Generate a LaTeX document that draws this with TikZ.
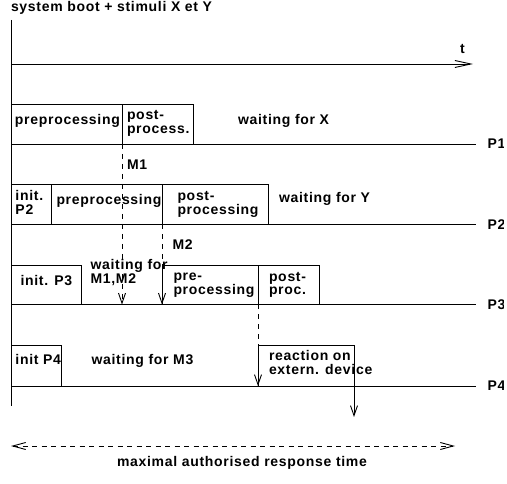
\documentclass[tikz,border=0pt]{standalone}
\usepackage{fontspec}
\newfontfamily\labfont{Liberation Sans}[UprightFont=* Bold, LetterSpace=5]
\usetikzlibrary{arrows.meta}
\begin{document}
\begin{tikzpicture}[x=1pt,y=-1pt, line width=0.9pt,
  lab/.style={font=\labfont\fontsize{14}{14}\selectfont, anchor=base west, inner sep=0pt, outer sep=0pt},
  box/.style={draw, rectangle, inner sep=0pt, outer sep=0pt, anchor=north west},
  vtip/.style={-{Straight Barb[length=10pt,width=7pt]}},
  msg/.style={vtip, dash pattern=on 5pt off 5pt}]
\useasboundingbox (0,0) rectangle (507,484);
\clip (0,0) rectangle (503,484);

% axes
\coordinate (v0) at (11,20);
\coordinate (v1) at (11,406);
\draw (v0) -- (v1);
\coordinate (t0) at (11,64);
\coordinate (t1) at (473,64);
\draw[-{Straight Barb[length=16pt,width=7pt]}] (t0) -- (t1);
\node[lab] (title) at (11,11.5) {system boot + stimuli X et Y};
\node[lab] (tlab) at (460,54) {t};

% process lines
\coordinate (l1a) at (11,144);   \coordinate (l1b) at (476,144);
\coordinate (l2a) at (11,224.5); \coordinate (l2b) at (476,224.5);
\coordinate (l3a) at (11,304.5); \coordinate (l3b) at (476,304.5);
\coordinate (l4a) at (11,386);   \coordinate (l4b) at (476,386);
\draw (l1a) -- (l1b);
\draw (l2a) -- (l2b);
\draw (l3a) -- (l3b);
\draw (l4a) -- (l4b);
\node[lab] (p1) at (487.5,149) {P1};
\node[lab] (p2) at (487.5,229.5) {P2};
\node[lab] (p3) at (487.5,309.5) {P3};
\node[lab] (p4) at (487.5,391) {P4};

% P1 boxes
\node[box, minimum width=111pt, minimum height=40pt] (b1a) at (11,104) {};
\node[box, minimum width=71pt, minimum height=40pt] (b1b) at (122,104) {};
\node[lab] (t1a) at (15,124.5) {preprocessing};
\node[lab] (t1b1) at (127,120) {post-};
\node[lab] (t1b2) at (127,134) {process.};
\node[lab] (t1c) at (238,125) {waiting for X};

% P2 boxes
\node[box, minimum width=40pt, minimum height=40.5pt] (b2a) at (11,184) {};
\node[box, minimum width=111pt, minimum height=40.5pt] (b2b) at (51,184) {};
\node[box, minimum width=106pt, minimum height=40.5pt] (b2c) at (162,184) {};
\node[lab] (t2a1) at (15.5,200.5) {init.};
\node[lab] (t2a2) at (15.5,214.5) {P2};
\node[lab] (t2b) at (56.5,204.5) {preprocessing};
\node[lab] (t2c1) at (177.5,200.5) {post-};
\node[lab] (t2c2) at (177.5,214.5) {processing};
\node[lab] (t2d) at (279,203) {waiting for Y};

% P3 boxes
\node[box, minimum width=70pt, minimum height=39.5pt] (b3a) at (11,265) {};
\node[box, minimum width=96pt, minimum height=39.5pt] (b3b) at (162,265) {};
\node[box, minimum width=61pt, minimum height=39.5pt] (b3c) at (258,265) {};
\node[lab] (t3a) at (20.5,286) {init. P3};
\node[lab] (t3w1) at (90.5,269.5) {waiting for};
\node[lab] (t3w2) at (90.5,283.5) {M1,M2};
\node[lab] (t3b1) at (173.5,281) {pre-};
\node[lab] (t3b2) at (173.5,295) {processing};
\node[lab] (t3c1) at (269,281.5) {post-};
\node[lab] (t3c2) at (269,295) {proc.};

% P4 boxes
\node[box, minimum width=50pt, minimum height=41pt] (b4a) at (11,345) {};
\node[box, minimum width=96pt, minimum height=41pt] (b4b) at (258,345) {};
\node[lab] (t4a) at (15.5,365) {init P4};
\node[lab] (t4w) at (91.5,365) {waiting for M3};
\node[lab] (t4b1) at (269,361) {reaction on};
\node[lab] (t4b2) at (269,375) {extern. device};

% messages
\coordinate (m1e) at (122,304.5);
\draw[msg] (b1a.south east) -- (m1e);
\node[lab] (m1) at (127,170) {M1};
\draw[msg] (b2b.south east) -- (b3b.south west);
\node[lab] (m2) at (172.5,250) {M2};
\draw[msg] (b3b.south east) -- (b4b.south west);
\coordinate (rend) at (354,417);
\draw[vtip] (b4b.south east) -- (rend);

% response time
\coordinate (r0) at (11,446);
\coordinate (r1) at (455,446);
\draw[dash pattern=on 5pt off 4.5pt, {Straight Barb[length=13pt,width=7pt]}-{Straight Barb[length=13pt,width=7pt]}] (r0) -- (r1);
\node[lab] (resp) at (117,466.5) {maximal authorised response time};
\end{tikzpicture}
\end{document}
